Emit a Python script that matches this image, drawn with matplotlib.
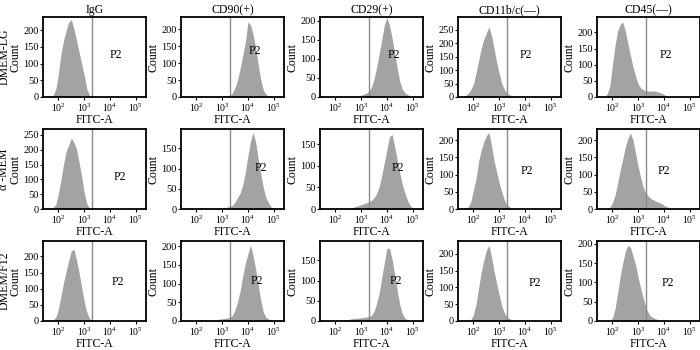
import numpy as np
import matplotlib
matplotlib.use("Agg")
import matplotlib.pyplot as plt
from matplotlib.ticker import MultipleLocator, FixedLocator, NullLocator

plt.rcParams['font.family'] = ['Liberation Serif', 'DejaVu Serif']
plt.rcParams['mathtext.fontset'] = 'custom'
plt.rcParams['mathtext.rm'] = 'Liberation Serif'
plt.rcParams['mathtext.it'] = 'Liberation Serif:italic'

# ---------------- data ----------------
col_titles = ["IgG", "CD90(+)", "CD29(+)", "CD11b/c(—)", "CD45(—)"]
row_labels = ["DMEM-LG", "α -MEM", "DMEM/F12"]
x_label = "FITC-A"
y_label = "Count"
gate_label = "P2"
gate_value = 2000
x_tick_values = [1e2, 1e3, 1e4, 1e5]
x_tick_labels = [r"$10^{2}$", r"$10^{3}$", r"$10^{4}$", r"$10^{5}$"]

# log10(FITC-A) channel positions of the histogram counts
log_fitc = [1.5, 1.6, 1.7, 1.8, 1.9, 2.0, 2.1, 2.2, 2.3, 2.4,
            2.5, 2.6, 2.7, 2.8, 2.9, 3.0, 3.1, 3.2, 3.3, 3.4,
            3.5, 3.6, 3.7, 3.8, 3.9, 4.0, 4.1, 4.2, 4.3, 4.4,
            4.5, 4.6, 4.7, 4.8, 4.9, 5.0, 5.1, 5.2, 5.3]

# DMEM-LG
igg_lg = [0, 1, 3, 6, 25, 70, 130, 170, 200, 225, 232, 205, 170, 135, 100, 65, 25, 6, 2, 1,
          1, 0, 0, 0, 0, 1, 0, 0, 0, 0, 0, 0, 0, 0, 0, 1, 0, 0, 0]
cd90_lg = [0, 0, 1, 1, 1, 2, 2, 2, 2, 2, 2, 2, 2, 3, 3, 3, 3, 4, 5, 12,
           28, 52, 85, 122, 163, 222, 212, 185, 145, 95, 50, 20, 8, 3, 1, 1, 0, 0, 0]
cd29_lg = [1, 1, 1, 1, 1, 1, 2, 2, 2, 2, 2, 2, 2, 2, 3, 5, 7, 10, 15, 26,
           48, 78, 114, 151, 190, 208, 188, 155, 115, 75, 40, 20, 11, 6, 3, 2, 1, 0, 0]
cd11_lg = [0, 2, 6, 14, 28, 48, 90, 135, 180, 215, 238, 262, 230, 180, 130, 88, 50, 28, 15, 8,
           5, 3, 2, 2, 1, 1, 0, 0, 0, 0, 0, 0, 0, 0, 0, 0, 0, 0, 0]
cd45_lg = [0, 0, 2, 10, 35, 100, 160, 205, 225, 232, 205, 165, 128, 92, 64, 40, 28, 22, 19, 19,
           18, 19, 17, 15, 12, 8, 4, 2, 1, 0, 0, 0, 0, 0, 0, 0, 0, 0, 0]
# alpha-MEM
igg_mem = [0, 1, 2, 6, 16, 52, 100, 152, 195, 216, 240, 225, 203, 158, 110, 55, 18, 4, 1, 0,
           0, 0, 0, 0, 0, 0, 0, 0, 0, 0, 0, 0, 0, 0, 0, 0, 0, 0, 0]
cd90_mem = [0, 0, 1, 1, 1, 2, 2, 2, 2, 2, 2, 2, 2, 2, 2, 2, 3, 5, 7, 9,
            17, 29, 40, 60, 92, 132, 168, 190, 165, 124, 86, 52, 28, 15, 5, 2, 1, 0, 0]
cd29_mem = [1, 1, 1, 1, 2, 2, 2, 2, 2, 2, 2, 2, 4, 6, 8, 10, 12, 14, 17, 20,
            26, 36, 52, 78, 108, 138, 168, 172, 145, 113, 83, 56, 36, 20, 8, 3, 1, 0, 0]
cd11_mem = [0, 1, 3, 6, 22, 55, 88, 138, 170, 195, 212, 222, 185, 140, 108, 75, 50, 26, 12, 6,
            3, 2, 2, 1, 0, 0, 0, 0, 0, 0, 0, 0, 0, 0, 0, 0, 0, 0, 0]
cd45_mem = [0, 0, 0, 1, 5, 18, 40, 74, 112, 145, 180, 205, 220, 200, 160, 122, 90, 62, 46, 37,
            30, 26, 22, 19, 16, 11, 7, 4, 2, 1, 0, 0, 0, 0, 0, 0, 0, 0, 0]
# DMEM/F12
igg_f12 = [0, 1, 2, 4, 12, 38, 78, 120, 155, 188, 218, 222, 190, 150, 105, 60, 28, 8, 3, 1,
           0, 0, 0, 0, 0, 0, 0, 0, 0, 0, 0, 0, 0, 0, 0, 0, 0, 0, 0]
cd90_f12 = [0, 0, 1, 1, 1, 2, 2, 2, 2, 2, 2, 2, 3, 4, 5, 6, 7, 8, 9, 15,
            30, 53, 82, 122, 155, 180, 203, 175, 138, 95, 55, 23, 10, 5, 3, 1, 0, 0, 0]
cd29_f12 = [1, 1, 1, 1, 1, 2, 2, 2, 2, 2, 4, 5, 6, 7, 7, 8, 9, 10, 11, 14,
            24, 44, 70, 108, 145, 180, 180, 153, 115, 75, 40, 18, 7, 3, 1, 0, 0, 0, 0]
cd11_f12 = [0, 0, 0, 2, 4, 18, 50, 98, 145, 180, 210, 225, 192, 148, 112, 78, 45, 24, 12, 7,
            4, 3, 2, 1, 0, 0, 0, 0, 0, 0, 0, 0, 0, 0, 0, 0, 0, 0, 0]
cd45_f12 = [0, 0, 0, 0, 1, 8, 32, 72, 115, 150, 180, 196, 190, 168, 145, 112, 84, 58, 35, 20,
            12, 8, 5, 3, 2, 1, 0, 0, 0, 0, 0, 0, 0, 0, 0, 0, 0, 0, 0]

# y-axis upper limits of each panel (Count)
ymax_lg = [240, 236, 210, 298, 248]
ymax_mem = [270, 198, 185, 232, 232]
ymax_f12 = [248, 214, 198, 238, 207]

panels = [[igg_lg, cd90_lg, cd29_lg, cd11_lg, cd45_lg],
          [igg_mem, cd90_mem, cd29_mem, cd11_mem, cd45_mem],
          [igg_f12, cd90_f12, cd29_f12, cd11_f12, cd45_f12]]
ymaxes = [ymax_lg, ymax_mem, ymax_f12]

# ---------------- layout ----------------
W, H = 700, 350
col_left_px = [43, 181, 320, 458, 597]
row_top_px = [17, 129, 241]
ax_w_px, ax_h_px = 103, 80
p2_pos = [[(0.71, 0.52), (0.72, 0.57), (0.72, 0.53), (0.66, 0.52), (0.67, 0.53)],
          [(0.75, 0.40), (0.78, 0.51), (0.76, 0.51), (0.67, 0.47), (0.645, 0.47)],
          [(0.73, 0.49), (0.74, 0.50), (0.74, 0.50), (0.75, 0.48), (0.69, 0.48)]]

fill_color = '#a3a3a3'
gate_color = '#8a8a8a'

fig = plt.figure(figsize=(W / 100, H / 100), dpi=100)
xs = 10 ** np.array(log_fitc)

for r in range(3):
    for c in range(5):
        left = col_left_px[c] / W
        bottom = 1 - (row_top_px[r] + ax_h_px) / H
        ax = fig.add_axes([left, bottom, ax_w_px / W, ax_h_px / H])
        ax.fill_between(xs, panels[r][c], 0, color=fill_color, lw=0)
        ax.axvline(gate_value, color=gate_color, lw=1.0)
        ax.set_xscale('log')
        ax.set_xlim(10 ** 1.4, 10 ** 5.4)
        ax.set_ylim(0, ymaxes[r][c])
        ax.xaxis.set_major_locator(FixedLocator(x_tick_values))
        ax.set_xticklabels(x_tick_labels)
        ax.xaxis.set_minor_locator(NullLocator())
        ax.yaxis.set_major_locator(MultipleLocator(50))
        ax.tick_params(axis='x', labelsize=7, length=2.5, width=0.8, pad=1, direction='out')
        ax.tick_params(axis='y', labelsize=7.5, length=2, width=0.8, pad=1, direction='out')
        for s in ax.spines.values():
            s.set_linewidth(1.3)
            s.set_color('black')
        ax.set_xlabel(x_label, fontsize=8.5, labelpad=0)
        ax.set_ylabel(y_label, fontsize=8.5, labelpad=1)
        px, py = p2_pos[r][c]
        ax.text(px, py, gate_label, transform=ax.transAxes, ha='center', va='center', fontsize=8.5)
        if r == 0:
            ax.set_title(col_titles[c], fontsize=8.5, pad=3)
        if c == 0:
            ymid = 1 - (row_top_px[r] + ax_h_px / 2) / H
            fig.text(4.5 / W, ymid, row_labels[r], rotation=90, ha='center', va='center', fontsize=8.5)

fig.savefig('out.png', dpi=100)
